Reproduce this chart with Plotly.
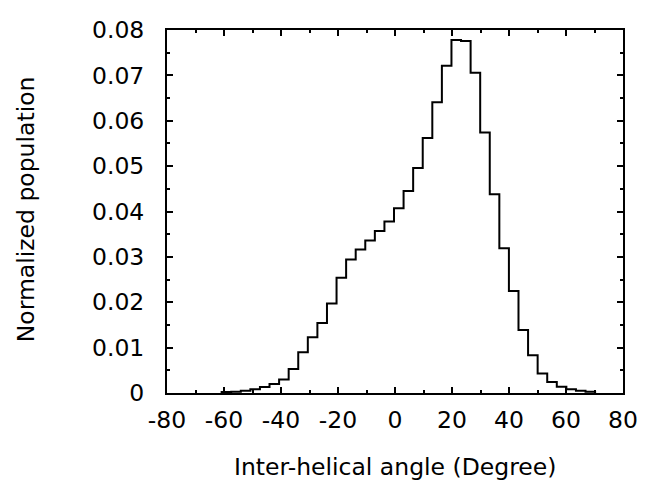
import plotly.graph_objects as go

# histogram of inter-helical angles (bin centres in degrees, normalized counts)
bin_width = 3.36
angle_centers = [-59.15, -55.79, -52.43, -49.07, -45.71, -42.35, -38.99, -35.63,
                 -32.27, -28.91, -25.55, -22.19, -18.83, -15.47, -12.11, -8.75,
                 -5.39, -2.03, 1.33, 4.69, 8.05, 11.41, 14.77, 18.13, 21.49,
                 24.85, 28.21, 31.57, 34.93, 38.29, 41.65, 45.01, 48.37, 51.73,
                 55.09, 58.45, 61.81, 65.17, 68.53]
population = [0.0002, 0.0003, 0.0005, 0.0008, 0.0013, 0.0020, 0.0030, 0.0053,
              0.0090, 0.0123, 0.0154, 0.0197, 0.0254, 0.0294, 0.0316, 0.0336,
              0.0357, 0.0378, 0.0407, 0.0445, 0.0496, 0.0562, 0.0641, 0.0721,
              0.0778, 0.0776, 0.0706, 0.0574, 0.0438, 0.0319, 0.0225, 0.0139,
              0.0083, 0.0043, 0.0024, 0.0014, 0.0008, 0.0005, 0.0003]

x_ticks = [-80, -60, -40, -20, 0, 20, 40, 60, 80]
x_labels = ['-80', '-60', '-40', '-20', '0', '20', '40', '60', '80']
y_ticks = [0, 0.01, 0.02, 0.03, 0.04, 0.05, 0.06, 0.07, 0.08]
y_labels = ['0', '0.01', '0.02', '0.03', '0.04', '0.05', '0.06', '0.07', '0.08']

# step outline: left edges with hv steps, closed down to zero at both ends
left = [c - bin_width / 2 for c in angle_centers]
xs = [left[0]] + left + [angle_centers[-1] + bin_width / 2]
ys = [0] + population + [0]

FONT = 'DejaVu Sans'
FSIZE = 23.5

fig = go.Figure()
fig.add_scatter(x=xs, y=ys, mode='lines', line=dict(color='black', width=2, shape='hv'),
                showlegend=False, hoverinfo='skip')

axis_style = dict(showline=True, linecolor='black', linewidth=2, mirror='allticks',
                  ticks='inside', ticklen=6, tickwidth=2, tickcolor='black',
                  showgrid=False, zeroline=False,
                  tickfont=dict(family=FONT, size=FSIZE, color='black'))

fig.update_xaxes(range=[-80, 80], tickvals=x_ticks, ticktext=x_labels,
                 minor=dict(ticks='inside', ticklen=3, tickwidth=2, tickcolor='black', dtick=10),
                 ticklabelstandoff=5, **axis_style)
fig.update_yaxes(range=[0, 0.08], tickvals=y_ticks, ticktext=y_labels,
                 minor=dict(ticks='inside', ticklen=3, tickwidth=2, tickcolor='black', dtick=0.005),
                 ticklabelstandoff=16, **axis_style)

fig.add_annotation(text='Inter-helical angle (Degree)', xref='paper', yref='paper',
                   x=0.5, y=-0.205, xanchor='center', yanchor='middle', showarrow=False,
                   font=dict(family=FONT, size=FSIZE, color='black'))
fig.add_annotation(text='Normalized population', xref='paper', yref='paper',
                   x=-0.31, y=0.505, xanchor='center', yanchor='middle', showarrow=False,
                   textangle=-90, font=dict(family=FONT, size=FSIZE, color='black'))

fig.update_layout(width=650, height=484, plot_bgcolor='white', paper_bgcolor='white',
                  margin=dict(l=167, r=24, t=30, b=91))

# drop the browser's default body margin so the figure sits at the page corner
fig.write_html('out.html', config={'displayModeBar': False},
               post_script="document.body.style.margin='0';")
